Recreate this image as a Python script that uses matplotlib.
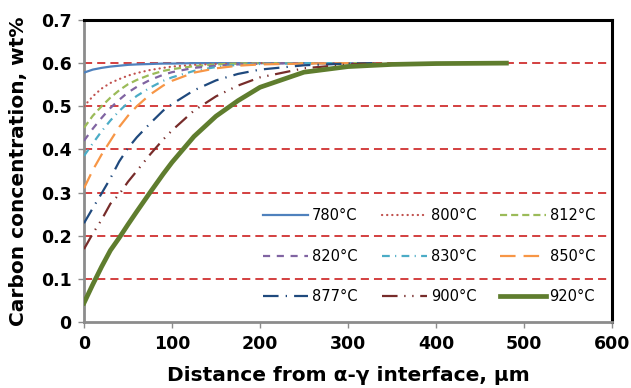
import matplotlib
matplotlib.use("Agg")
import matplotlib.pyplot as plt

# ---- data ----
distance = [0, 10, 20, 30, 40, 50, 60, 75, 90, 100, 125, 150, 175, 200, 250, 300, 330]
c780 = [0.578, 0.585, 0.589, 0.592, 0.594, 0.596, 0.597, 0.598, 0.599, 0.599, 0.600, 0.600, 0.600, 0.600, 0.600, 0.600, 0.600]
c800 = [0.500, 0.523, 0.541, 0.554, 0.563, 0.571, 0.577, 0.584, 0.589, 0.592, 0.596, 0.598, 0.599, 0.600, 0.600, 0.600, 0.600]
c812 = [0.450, 0.478, 0.500, 0.520, 0.537, 0.551, 0.561, 0.573, 0.582, 0.586, 0.593, 0.597, 0.599, 0.600, 0.600, 0.600, 0.600]
c820 = [0.420, 0.448, 0.473, 0.496, 0.515, 0.532, 0.545, 0.561, 0.573, 0.579, 0.589, 0.594, 0.597, 0.599, 0.600, 0.600, 0.600]
c830 = [0.385, 0.414, 0.442, 0.467, 0.489, 0.508, 0.524, 0.543, 0.559, 0.567, 0.582, 0.591, 0.596, 0.598, 0.600, 0.600, 0.600]
c850 = [0.310, 0.352, 0.388, 0.420, 0.452, 0.478, 0.500, 0.527, 0.548, 0.559, 0.578, 0.588, 0.594, 0.597, 0.599, 0.600, 0.600]
c877 = [0.229, 0.264, 0.298, 0.333, 0.372, 0.403, 0.428, 0.460, 0.490, 0.505, 0.537, 0.560, 0.575, 0.585, 0.595, 0.599, 0.600]
c900 = [0.169, 0.205, 0.237, 0.274, 0.296, 0.325, 0.350, 0.388, 0.423, 0.444, 0.490, 0.523, 0.548, 0.567, 0.588, 0.597, 0.599]
distance920 = [0, 10, 20, 30, 40, 50, 60, 75, 90, 100, 125, 150, 175, 200, 250, 300, 350, 400, 480]
c920 = [0.044, 0.087, 0.128, 0.166, 0.195, 0.226, 0.256, 0.300, 0.343, 0.370, 0.430, 0.477, 0.513, 0.544, 0.579, 0.592, 0.597, 0.599, 0.600]

labels = ["780°C", "800°C", "812°C", "820°C", "830°C", "850°C", "877°C", "900°C", "920°C"]
x_ticks = [0, 100, 200, 300, 400, 500, 600]
y_ticks = [0, 0.1, 0.2, 0.3, 0.4, 0.5, 0.6, 0.7]
y_tick_labels = ["0", "0.1", "0.2", "0.3", "0.4", "0.5", "0.6", "0.7"]

series = [
    (distance, c780, "#4F81BD", "-", 1.6),
    (distance, c800, "#C0504D", (0, (0.1, 2.2)), 1.6),
    (distance, c812, "#9BBB59", (0, (3.2, 1.8)), 1.6),
    (distance, c820, "#8064A2", (0, (3.2, 3.0)), 1.6),
    (distance, c830, "#4BACC6", (0, (3.5, 2.4, 0.5, 2.4)), 1.6),
    (distance, c850, "#F79646", (0, (7.0, 3.6)), 1.6),
    (distance, c877, "#1F497D", (0, (7.0, 3.2, 0.6, 3.2)), 1.6),
    (distance, c900, "#772C2A", (0, (7.0, 3.0, 0.6, 3.0, 0.6, 3.0)), 1.6),
    (distance920, c920, "#5F7D2E", "-", 3.4),
]

plt.rcParams['font.family'] = ['DejaVu Sans']
fig = plt.figure(figsize=(6.31, 3.88), dpi=100)
ax = fig.add_axes([0.1331, 0.1701, 0.8368, 0.7784])

for y in y_ticks[1:-1]:
    ax.axhline(y, color="#D03030", lw=1.3, ls=(0, (4.5, 2.8)), zorder=1)

handles = []
for (xs, ys, col, ls, lw), lab in zip(series, labels):
    h, = ax.plot(xs, ys, color=col, ls=ls, lw=lw, label=lab, zorder=3,
                 dash_capstyle="round" if col == "#C0504D" else "butt")
    handles.append(h)

ax.set_xlim(0, 600)
ax.set_ylim(0, 0.7)
ax.set_xticks(x_ticks)
ax.set_yticks(y_ticks)
ax.set_yticklabels(y_tick_labels)
ax.tick_params(axis="both", direction="out", length=4, width=1, color="#8c8c8c",
               labelsize=12.5, pad=5)
for t in ax.get_xticklabels() + ax.get_yticklabels():
    t.set_fontweight("bold")

for s in ["top", "right"]:
    ax.spines[s].set_color("black")
    ax.spines[s].set_linewidth(2.2)
for s in ["left", "bottom"]:
    ax.spines[s].set_color("#8c8c8c")
    ax.spines[s].set_linewidth(2.0)

ax.set_xlabel("Distance from α-γ interface, μm", fontsize=14.5, fontweight="bold", labelpad=10)
ax.set_ylabel("Carbon concentration, wt%", fontsize=14.5, fontweight="bold", labelpad=9)

order = [0, 3, 6, 1, 4, 7, 2, 5, 8]
leg = ax.legend([handles[i] for i in order], [labels[i] for i in order], ncol=3,
                loc="upper left", bbox_to_anchor=(0.339, 0.376), frameon=False,
                fontsize=10.5, handlelength=3.1, handletextpad=0.27,
                columnspacing=1.65, labelspacing=1.75, borderpad=0, borderaxespad=0)

fig.savefig("out.png", dpi=100)
